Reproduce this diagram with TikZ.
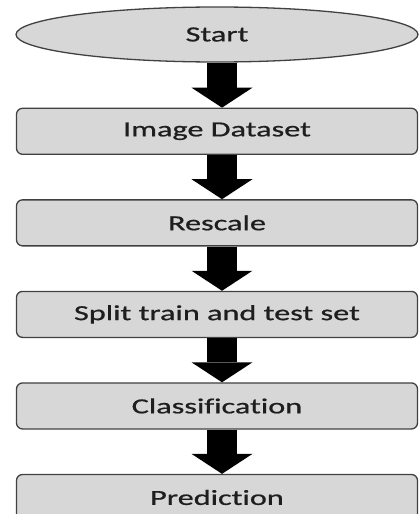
\documentclass[tikz,border=0pt]{standalone}
\usepackage{fontspec}
\setmainfont[FakeStretch=1.5, FakeBold=0.8, Ligatures=NoCommon]{Carlito}
\usetikzlibrary{positioning}
\usetikzlibrary{arrows.meta}
\usetikzlibrary{shapes.geometric}
\definecolor{boxfill}{RGB}{215,215,215}
\definecolor{boxline}{RGB}{65,65,65}
\definecolor{boxtext}{RGB}{30,30,30}
\tikzset{
        stepnode/.style={align=center, inner sep=0pt, draw=boxline, fill=boxfill, text=boxtext, line width=1.3pt, font=\fontsize{21.5}{24}\selectfont},
        % Start node
        node_start/.style={stepnode, ellipse, minimum width=402pt, minimum height=55pt},
        % Process boxes
        node_process/.style={stepnode, rectangle, rounded corners=6pt, minimum width=401pt, minimum height=46pt},
        % Thick black arrows between the steps
        flow_arrow/.style={black, line width=30pt, -{Triangle[width=61pt 0, length=20pt 0, line width=0pt]}}
}
\begin{document}
\begin{tikzpicture}[x=1pt, y=1pt, node distance=44.25pt]
            \useasboundingbox (0,0) rectangle (419,-514);
            \node[node_start] (start) at (217,-34.5) {Start};
            \node[node_process, below=45pt of start] (dataset) {Image Dataset};
            \node[node_process, below=of dataset] (rescale) {Rescale};
            \node[node_process, below=of rescale] (split) {Split train and test set};
            \node[node_process, below=of split] (classify) {Classification};
            \node[node_process, below=of classify] (predict) {Prediction};
            \foreach \a/\b in {start/dataset, dataset/rescale, rescale/split, split/classify, classify/predict}
                \draw[flow_arrow] ([xshift=5pt]\a.south) -- ([xshift=5pt]\b.north);
\end{tikzpicture}
\end{document}
